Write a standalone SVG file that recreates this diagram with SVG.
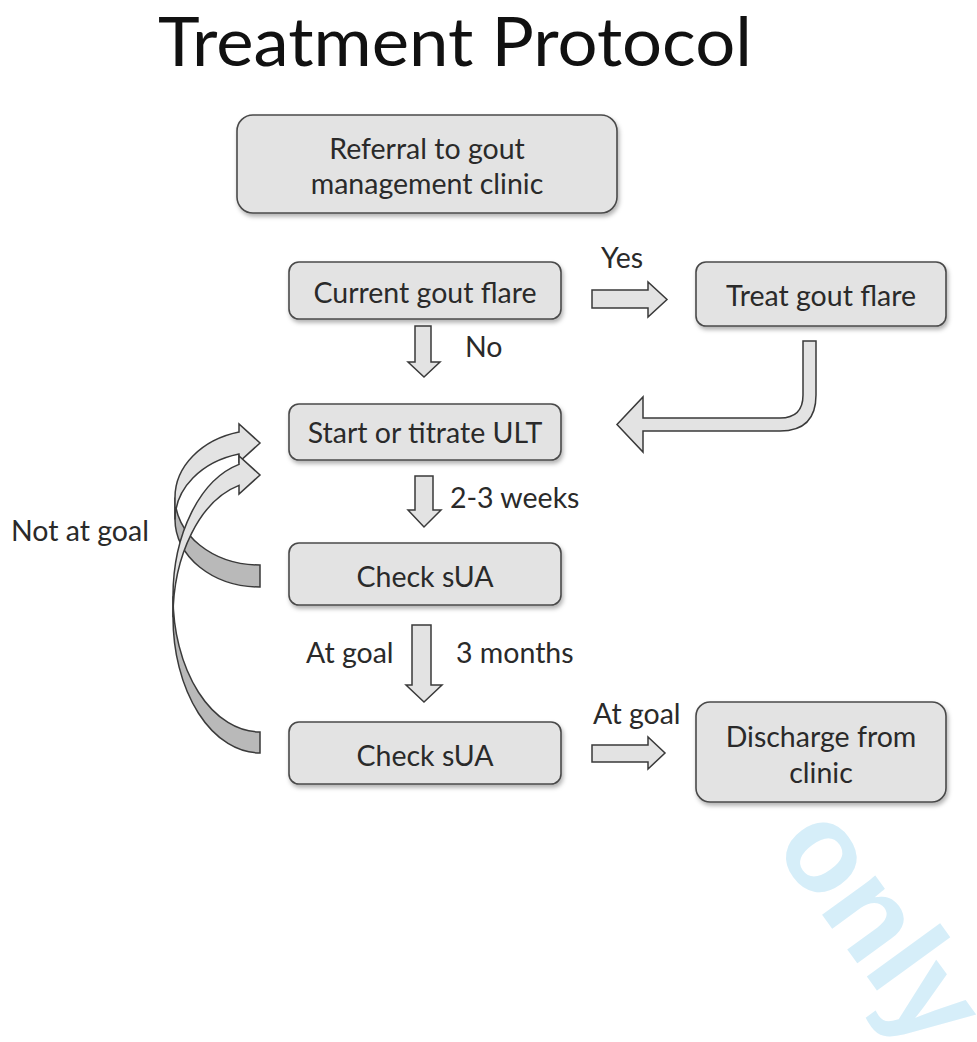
<svg xmlns="http://www.w3.org/2000/svg" width="977" height="1042" viewBox="0 0 977 1042">
  <defs>
    <filter id="shadow" x="-10%" y="-20%" width="130%" height="160%">
      <feDropShadow dx="1.5" dy="3" stdDeviation="2" flood-color="#000" flood-opacity="0.3"/>
    </filter>
  </defs>
  <style>
    .box { fill: #e3e3e3; stroke: #4a4a4a; stroke-width: 1.6; filter: url(#shadow); }
    .arrow { fill: #e3e3e3; stroke: #3a3a3a; stroke-width: 1.5; stroke-linejoin: miter; }
    .back { fill: #b9b9b9; stroke: #3a3a3a; stroke-width: 1.5; }
    .t { font-family: Lato, "Liberation Sans", sans-serif; font-size: 28.5px; fill: #2a2a2a; }
    .c { text-anchor: middle; }
    .title { font-family: Lato, "Liberation Sans", sans-serif; font-size: 68px; fill: #111; text-anchor: middle; }
    .mark { font-family: "Liberation Sans", Arial, sans-serif; font-weight: bold; font-size: 125px; fill: #d6eef9; }
  </style>

  <rect width="977" height="1042" fill="#fff"/>

  <!-- watermark -->
  <text class="mark" x="772" y="846" transform="rotate(54 772 846)">only</text>

  <text class="title" x="455" y="66" textLength="594" lengthAdjust="spacingAndGlyphs">Treatment Protocol</text>

  <!-- connectors -->
  <g id="connectors">
    <!-- Yes -->
    <path class="arrow" d="M592 290 L648 290 L648 282 L667 299.5 L648 317 L648 308 L592 308 Z"/>
    <!-- No -->
    <path class="arrow" d="M415 326 L431 326 L431 362 L440 362 L424 377 L408 362 L415 362 Z"/>
    <!-- Treat gout flare back to Start or titrate ULT -->
    <path class="arrow" d="M803 341 L816 341 L816 395 Q816 431 780 431 L643 431 L643 452 L617 424.5 L643 397 L643 418 L780 418 Q803 418 803 395 Z"/>
    <!-- 2-3 weeks -->
    <path class="arrow" d="M415 476 L433 476 L433 510 L441 510 L424 527 L408 510 L415 510 Z"/>
    <!-- 3 months -->
    <path class="arrow" d="M412 625 L431 625 L431 685 L442 685 L424 702 L406 685 L412 685 Z"/>
    <!-- At goal to discharge -->
    <path class="arrow" d="M592 745 L648 745 L648 737 L665 753 L648 769 L648 762 L592 762 Z"/>
    <!-- Not at goal loop from first sUA check -->
    <path class="back" d="M260 565 A85 67.5 0 0 1 175 497.5 L175 519.5 A85 67.5 0 0 0 260 587 Z"/>
    <path class="arrow" d="M175 497.5 A85 67.5 0 0 1 239 432.1 L239 424 L260 443 L239 462 L239 454.1 A85 67.5 0 0 0 175 519.5 Z"/>
    <!-- Not at goal loop from second sUA check -->
    <path class="back" d="M260 732 A87 135.8 0 0 1 173 596.2 L173 617.2 A87 135.8 0 0 0 260 753 Z"/>
    <path class="arrow" d="M173 596.2 A87 135.8 0 0 1 239 464.4 L239 456 L260 475 L239 494 L239 485.4 A87 135.8 0 0 0 173 617.2 Z"/>
  </g>

  <!-- connector labels -->
  <g id="labels">
    <text class="t" x="601" y="268">Yes</text>
    <text class="t" x="465" y="357">No</text>
    <text class="t" x="450" y="508">2-3 weeks</text>
    <text class="t" x="306" y="663">At goal</text>
    <text class="t" x="456" y="663">3 months</text>
    <text class="t" x="593" y="724">At goal</text>
    <text class="t" x="11" y="541">Not at goal</text>
  </g>

  <g id="referral">
    <rect class="box" x="237" y="115" width="380" height="98" rx="16"/>
    <text class="t c" x="427" y="159">Referral to gout</text>
    <text class="t c" x="427" y="194">management clinic</text>
  </g>
  <g id="flare">
    <rect class="box" x="289" y="262" width="272" height="57" rx="10"/>
    <text class="t c" x="425" y="303">Current gout flare</text>
  </g>
  <g id="treat">
    <rect class="box" x="696" y="262" width="250" height="64" rx="10"/>
    <text class="t c" x="821" y="306">Treat gout flare</text>
  </g>
  <g id="ult">
    <rect class="box" x="289" y="404" width="272" height="56" rx="10"/>
    <text class="t c" x="425" y="443">Start or titrate ULT</text>
  </g>
  <g id="check1">
    <rect class="box" x="289" y="543" width="272" height="62" rx="10"/>
    <text class="t c" x="425" y="587">Check sUA</text>
  </g>
  <g id="check2">
    <rect class="box" x="289" y="722" width="272" height="62" rx="10"/>
    <text class="t c" x="425" y="766">Check sUA</text>
  </g>
  <g id="discharge">
    <rect class="box" x="696" y="702" width="250" height="100" rx="14"/>
    <text class="t c" x="821" y="747">Discharge from</text>
    <text class="t c" x="821" y="783">clinic</text>
  </g>
</svg>
